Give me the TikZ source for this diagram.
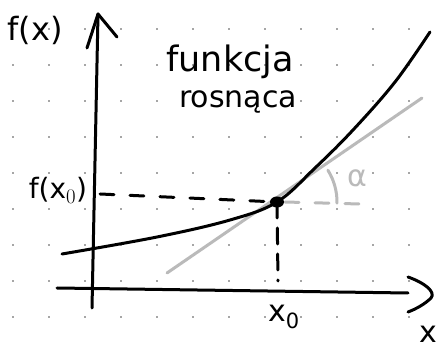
\documentclass[tikz,border=0pt]{standalone}
\usepackage{fontspec}
\setsansfont{DejaVu Sans}
\begin{document}
\begin{tikzpicture}[x=1pt,y=-1pt,
  ink/.style={line width=3pt,line cap=round,line join=round,black},
  pale/.style={line width=3pt,line cap=round,line join=round,color=black!27},
  griddot/.style={fill=black!70},
  hand/.style={inner sep=0pt,font=\sffamily}]
\useasboundingbox (0,0) rectangle (436,352);
\fill[white] (0,0) rectangle (436,352);
% dotted grid
\foreach \i in {0,...,11}{\foreach \j in {0,...,8}{
  \fill[griddot] (13+36*\i,29+36*\j) circle (0.9);}}
% tangent line
\coordinate (tA) at (167,273);
\coordinate (tB) at (422,98);
\draw[pale] (tA) -- (tB);
% point
\coordinate (P) at (277,202);
% grey horizontal dashes and angle
\coordinate (gE) at (360,204);
\draw[pale,dash pattern=on 14pt off 16pt] (P) ++(8,0) coordinate (gS) -- (gE);
\draw[pale] (P) ++(1:60) arc[start angle=1,end angle=-32,radius=60];
\node[hand,color=black!27,font=\sffamily\fontsize{30}{30}\selectfont] (alpha) at (357,178) {α};
% axes
\coordinate (yB) at (92,308);
\coordinate (yT) at (98,14);
\draw[ink] (yB) -- (yT);
\draw[ink] (87,48) -- (yT) -- (117,37);
\coordinate (xL) at (57,288);
\coordinate (xR) at (408,293);
\draw[ink] (xL) -- (xR);
\draw[ink] (408,277) .. controls (425,283) and (436,292) .. (431,298) .. controls (425,304) and (416,309) .. (408,312);
% curve
\draw[ink] plot[smooth,tension=0.6] coordinates {(62,254) (157,237) (230,220) (277,202) (315,168) (353,130) (395,82) (430,32)};
% dashed guides
\coordinate (hL) at (100,194);
\draw[ink,dash pattern=on 14pt off 16pt] (hL) -- (P);
\coordinate (vB) at (278,281);
\draw[ink,dash pattern=on 16pt off 10pt] (P) -- (vB);
\fill (P) ellipse[x radius=7,y radius=5.5];
% labels
\node[hand,font=\sffamily\fontsize{32}{32}\selectfont] (fx) at (35,30) {f(x)};
\node[hand,font=\sffamily\fontsize{28}{28}\selectfont] (fx0) at (58,190) {f(x$_0$)};
\node[hand,font=\sffamily\fontsize{35}{35}\selectfont] (t1) at (230,62) {funkcja};
\node[hand,font=\sffamily\fontsize{30}{30}\selectfont] (t2) at (238,102) {rosnąca};
\node[hand,font=\sffamily\fontsize{30}{30}\selectfont] (x0) at (284,317) {x$_{\mathsf{0}}$};
\node[hand,font=\sffamily\fontsize{30}{30}\selectfont] (xl) at (428,334) {x};
\end{tikzpicture}
\end{document}
